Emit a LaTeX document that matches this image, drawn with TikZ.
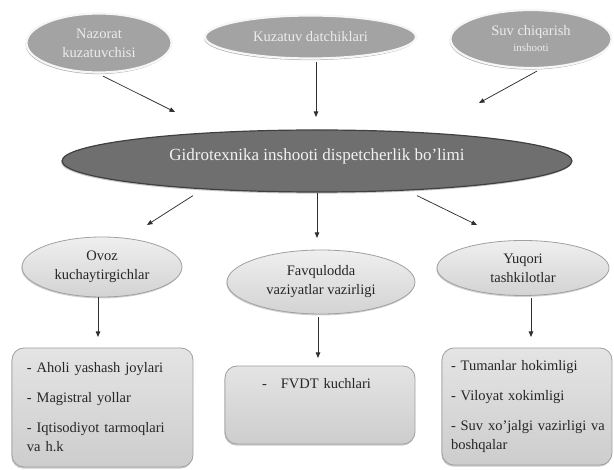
\documentclass[tikz,border=0pt]{standalone}
\usepackage{fontspec}
\setmainfont{Liberation Serif}
\usetikzlibrary{shapes.geometric,shadows,arrows.meta}
\definecolor{topfill}{HTML}{A3A3A3}
\definecolor{topline}{HTML}{F6F6F6}
\definecolor{toptext}{HTML}{ECECEC}
\definecolor{mainfill}{HTML}{6F6F6F}
\definecolor{mainline}{HTML}{404040}
\definecolor{maintext}{HTML}{F2F2F2}
\definecolor{subtop}{HTML}{EFEFEF}
\definecolor{subbot}{HTML}{D3D3D3}
\definecolor{subline}{HTML}{A0A0A0}
\definecolor{boxtop}{HTML}{E4E4E4}
\definecolor{boxbot}{HTML}{CDCDCD}
\definecolor{txt}{HTML}{262626}
\definecolor{arrcol}{HTML}{303030}
\begin{document}
\begin{tikzpicture}[x=1pt,y=-1pt,
  topell/.style={ellipse, fill=topfill, draw=topline, line width=2.2pt,
    text=toptext, font=\fontsize{14.5}{19}\selectfont, align=center, inner sep=0pt,
    drop shadow={shadow xshift=-0.8pt, shadow yshift=-1.6pt, fill=black!40, opacity=0.8}},
  mainell/.style={ellipse, fill=mainfill, draw=mainline, line width=1.2pt,
    text=maintext, font=\fontsize{17}{20}\selectfont, inner sep=0pt,
    text height=12pt, text depth=12pt,
    drop shadow={shadow xshift=-0.8pt, shadow yshift=-1.6pt, fill=black!30, opacity=0.7}},
  subell/.style={ellipse, top color=subtop, bottom color=subbot, draw=subline, line width=0.8pt,
    text=txt, font=\fontsize{14.5}{19}\selectfont, align=center, inner sep=0pt,
    drop shadow={shadow xshift=-0.6pt, shadow yshift=-1.4pt, fill=black!30, opacity=0.6}},
  listbox/.style={rectangle, rounded corners=12pt, top color=boxtop, bottom color=boxbot,
    draw=subline, line width=0.8pt, text=txt, font=\fontsize{14.5}{19}\selectfont,
    align=left, inner ysep=0pt,
    drop shadow={shadow xshift=-0.6pt, shadow yshift=-1.6pt, fill=black!35, opacity=0.6}},
  arr/.style={draw=arrcol, line width=0.75pt, -{Triangle[length=5.5pt,width=4.5pt]}}
]
\useasboundingbox (0,0) rectangle (614,470);

% top ellipses
\node[topell, minimum width=145pt, minimum height=59pt] (naz) at (99,43) {Nazorat\\kuzatuvchisi};
\node[topell, minimum width=211pt, minimum height=43pt] (kuz) at (310.5,37) {Kuzatuv datchiklari};
\node[topell, minimum width=161pt, minimum height=58pt] (suv) at (531,39) {Suv chiqarish\\[-3pt]{\fontsize{11}{12}\selectfont inshooti}};

% central ellipse
\node[mainell, minimum width=510pt, minimum height=62pt] (main) at (317,161) {Gidrotexnika inshooti dispetcherlik bo'limi};

% second level ellipses
\node[subell, minimum width=160pt, minimum height=60pt] (ovoz) at (102,267) {Ovoz\\kuchaytirgichlar};
\node[subell, minimum width=188pt, minimum height=64pt] (fav) at (321,282) {Favqulodda\\vaziyatlar vazirligi};
\node[subell, minimum width=172pt, minimum height=55pt] (yuq) at (523,268) {Yuqori\\tashkilotlar};

% boxes
\node[listbox, inner xsep=15pt, text width=151pt, minimum height=119pt] (box1) at (102.5,407.5)
  {\mbox{- Aholi yashash joylari}\\[11pt]\mbox{- Magistral yollar}\\[11pt]\mbox{- Iqtisodiyot tarmoqlari}\\\mbox{va h.k}};
\node[listbox, inner xsep=37pt, text width=116pt, minimum height=78pt, text height=14pt, text depth=46pt, inner ysep=9pt] (box2) at (320,405)
  {\mbox{-\hspace{14pt}FVDT kuchlari}};
\node[listbox, inner xsep=9pt, text width=152pt, minimum height=117pt] (box3) at (527,406.5)
  {\mbox{- Tumanlar hokimligi}\\[11pt]\mbox{- Viloyat xokimligi}\\[11pt]\mbox{- Suv xo'jalgi vazirligi va}\\\mbox{boshqalar}};

% arrow end points
\coordinate (n1) at (175,112);
\coordinate (k1) at (316,117);
\coordinate (s1) at (479,103);
\coordinate (m1) at (147,225);
\coordinate (m2) at (317,238);
\coordinate (m3) at (477,225);
\coordinate (o1) at (98,337);
\coordinate (f1) at (318,358);
\coordinate (y1) at (531,337);

% arrows
\draw[arr] ([shift={(4,2.5)}]naz.south) -- (n1);
\draw[arr] ([shift={(5.5,2)}]kuz.south) -- (k1);
\draw[arr] ([shift={(6,2)}]suv.south) -- (s1);
\draw[arr] ([shift={(-124,3)}]main.south) -- (m1);
\draw[arr] (main.south) -- (m2);
\draw[arr] ([shift={(100,3)}]main.south) -- (m3);
\draw[arr] ([shift={(-4,0)}]ovoz.south) -- (o1);
\draw[arr] ([shift={(-3,3)}]fav.south) -- (f1);
\draw[arr] ([shift={(8,2)}]yuq.south) -- (y1);
\end{tikzpicture}
\end{document}
